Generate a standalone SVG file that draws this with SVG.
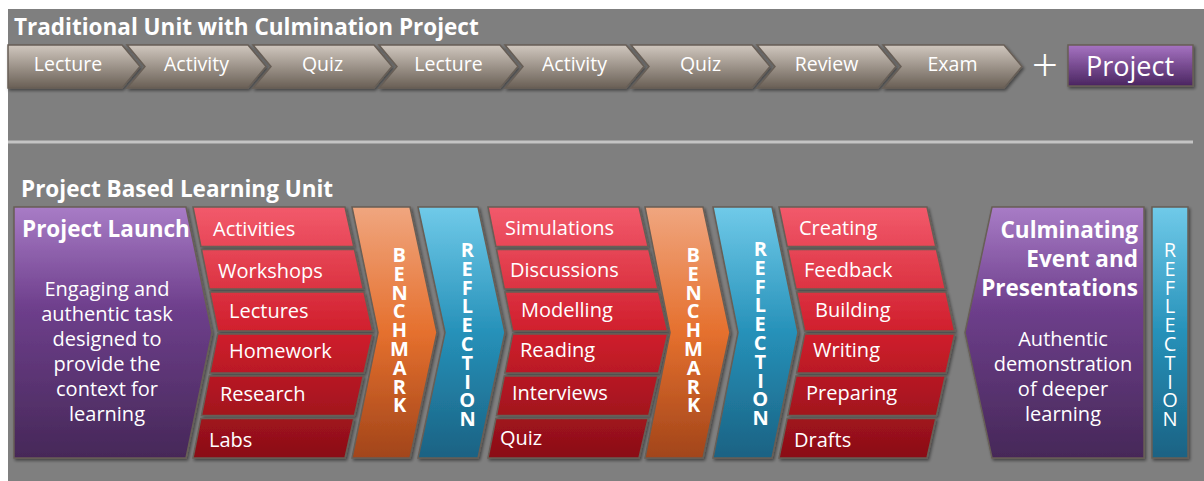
<svg xmlns="http://www.w3.org/2000/svg" xmlns:xlink="http://www.w3.org/1999/xlink" width="1204" height="481" viewBox="0 0 1204 481">
<defs>
<style>
.t{font-family:"Open Sans","Noto Sans","Liberation Sans",sans-serif;fill:#fff}
.h{font-weight:700;font-size:22.5px}
.ct{font-size:19.5px;text-anchor:middle}
.lb{font-size:20px}
.body{font-size:20px;text-anchor:middle}
.vert{writing-mode:vertical-rl;text-orientation:upright;text-anchor:start;letter-spacing:-8.2px}
.vb{font-weight:700;font-size:20px}
.vr{font-size:20px}
.sh{stroke:#675e56;stroke-width:1.5;filter:url(#ds)}
.red{fill:url(#gRed)}
.pur{fill:url(#gPur)}
.org{fill:url(#gOrg)}
.blu{fill:url(#gBlu)}
.tan{fill:url(#gTan)}
</style>
<filter id="ds" x="-10%" y="-10%" width="130%" height="130%">
<feDropShadow dx="1.5" dy="2" stdDeviation="1.5" flood-color="#000" flood-opacity="0.45"/>
</filter>
<linearGradient id="gTan" x1="0" y1="0" x2="0" y2="1">
<stop offset="0" stop-color="#d0c7be"/><stop offset="1" stop-color="#6a6056"/>
</linearGradient>
<linearGradient id="gProj" x1="0" y1="0" x2="0" y2="1">
<stop offset="0" stop-color="#a673c2"/><stop offset="1" stop-color="#4a2560"/>
</linearGradient>
<linearGradient id="gRed" gradientUnits="userSpaceOnUse" x1="0" y1="207" x2="0" y2="458">
<stop offset="0" stop-color="#f25a6b"/><stop offset="0.5" stop-color="#d01e2c"/><stop offset="1" stop-color="#8a0e16"/>
</linearGradient>
<linearGradient id="gPur" gradientUnits="userSpaceOnUse" x1="0" y1="207" x2="0" y2="458">
<stop offset="0" stop-color="#a87cc6"/><stop offset="0.4" stop-color="#6e3f8c"/><stop offset="1" stop-color="#462858"/>
</linearGradient>
<linearGradient id="gOrg" gradientUnits="userSpaceOnUse" x1="0" y1="207" x2="0" y2="458">
<stop offset="0" stop-color="#f0a67f"/><stop offset="0.5" stop-color="#e5702e"/><stop offset="1" stop-color="#a2451a"/>
</linearGradient>
<linearGradient id="gBlu" gradientUnits="userSpaceOnUse" x1="0" y1="207" x2="0" y2="458">
<stop offset="0" stop-color="#70cae9"/><stop offset="0.5" stop-color="#2691b9"/><stop offset="1" stop-color="#1b6283"/>
</linearGradient>
<path id="chev" d="M0,45 L121,45 L139,66.5 L121,88 L0,88 L18,66.5 Z"/>
</defs>

<rect x="0" y="0" width="1204" height="481" fill="#ffffff"/>
<rect x="8" y="9" width="1196" height="472" fill="#7f7f7f"/>
<line x1="8" y1="142" x2="1193" y2="142" stroke="#c4c4c4" stroke-width="3"/>

<text class="t h" x="14" y="35">Traditional Unit with Culmination Project</text>
<text class="t h" x="21" y="197">Project Based Learning Unit</text>

<!-- Traditional sequence -->
<g id="trad-lecture-1"><path class="tan sh" d="M8,45 L122,45 L140,66.5 L122,88 L8,88 Z"/><text class="t ct" x="68" y="71">Lecture</text></g>
<g id="trad-activity-1"><use href="#chev" x="127" class="tan sh"/><text class="t ct" x="196.5" y="71">Activity</text></g>
<g id="trad-quiz-1"><use href="#chev" x="253" class="tan sh"/><text class="t ct" x="322.5" y="71">Quiz</text></g>
<g id="trad-lecture-2"><use href="#chev" x="379" class="tan sh"/><text class="t ct" x="448.5" y="71">Lecture</text></g>
<g id="trad-activity-2"><use href="#chev" x="505" class="tan sh"/><text class="t ct" x="574.5" y="71">Activity</text></g>
<g id="trad-quiz-2"><use href="#chev" x="631" class="tan sh"/><text class="t ct" x="700.5" y="71">Quiz</text></g>
<g id="trad-review"><use href="#chev" x="757" class="tan sh"/><text class="t ct" x="826.5" y="71">Review</text></g>
<g id="trad-exam"><use href="#chev" x="883" class="tan sh"/><text class="t ct" x="952.5" y="71">Exam</text></g>
<g id="trad-plus"><text class="t" x="1045" y="81" font-size="46" font-weight="300" text-anchor="middle">+</text></g>
<g id="trad-project"><rect x="1068" y="45" width="125" height="41" fill="url(#gProj)" class="sh"/><text class="t" x="1130" y="76" font-size="27" text-anchor="middle">Project</text></g>

<!-- PBL unit -->
<g id="pbl-launch">
<path class="pur sh" d="M14,207 L186,207 L212,332.5 L186,458 L14,458 Z"/>
<text class="t h" x="22" y="237">Project Launch</text>
<text class="t body"><tspan x="107" y="296">Engaging and</tspan><tspan x="107" y="321">authentic task</tspan><tspan x="107" y="346">designed to</tspan><tspan x="107" y="371">provide the</tspan><tspan x="107" y="396">context for</tspan><tspan x="107" y="421">learning</tspan></text>
</g>

<g id="pbl-col1">
<path class="red sh" d="M193,207 L345,207 L353.8,246.5 L200.9,246.5 Z"/>
<path class="red sh" d="M201.5,249.5 L354.5,249.5 L363.3,289 L209.3,289 Z"/>
<path class="red sh" d="M209.9,292 L364,292 L372.7,331 L217.7,331 Z"/>
<path class="red sh" d="M217.7,334 L372.7,334 L364,373 L209.9,373 Z"/>
<path class="red sh" d="M209.3,376 L363.3,376 L354.5,415.5 L201.5,415.5 Z"/>
<path class="red sh" d="M200.9,418.5 L353.8,418.5 L345,458 L193,458 Z"/>
<text class="t lb" x="213" y="236">Activities</text>
<text class="t lb" x="218" y="278">Workshops</text>
<text class="t lb" x="229" y="318">Lectures</text>
<text class="t lb" x="229" y="358">Homework</text>
<text class="t lb" x="220" y="401">Research</text>
<text class="t lb" x="209" y="447">Labs</text>
</g>

<g id="pbl-benchmark-1">
<path class="org sh" d="M352,207 L410,207 L437,332.5 L410,458 L352,458 L378,332.5 Z"/>
<text class="t vb vert" x="399" y="241">BENCHMARK</text>
</g>

<g id="pbl-reflection-1">
<path class="blu sh" d="M418,207 L478,207 L505,332.5 L478,458 L418,458 L445,332.5 Z"/>
<text class="t vb vert" x="467" y="236">REFLECTION</text>
</g>

<g id="pbl-col2">
<path class="red sh" d="M488,207 L639,207 L648.1,246.5 L495.9,246.5 Z"/>
<path class="red sh" d="M496.5,249.5 L648.8,249.5 L658,289 L504.3,289 Z"/>
<path class="red sh" d="M504.9,292 L658.6,292 L667.7,331 L512.7,331 Z"/>
<path class="red sh" d="M512.7,334 L667.7,334 L658.6,373 L504.9,373 Z"/>
<path class="red sh" d="M504.3,376 L658,376 L648.8,415.5 L496.5,415.5 Z"/>
<path class="red sh" d="M495.9,418.5 L648.1,418.5 L639,458 L488,458 Z"/>
<text class="t lb" x="505" y="235">Simulations</text>
<text class="t lb" x="510" y="277">Discussions</text>
<text class="t lb" x="521" y="317">Modelling</text>
<text class="t lb" x="520" y="357">Reading</text>
<text class="t lb" x="512" y="400">Interviews</text>
<text class="t lb" x="500" y="445">Quiz</text>
</g>

<g id="pbl-benchmark-2">
<path class="org sh" d="M645,207 L703,207 L730,332.5 L703,458 L645,458 L670,332.5 Z"/>
<text class="t vb vert" x="693" y="241">BENCHMARK</text>
</g>

<g id="pbl-reflection-2">
<path class="blu sh" d="M713,207 L772,207 L798,332.5 L772,458 L713,458 L738,332.5 Z"/>
<text class="t vb vert" x="760" y="235">REFLECTION</text>
</g>

<g id="pbl-col3">
<path class="red sh" d="M779,207 L927,207 L935.8,246.5 L787.2,246.5 Z"/>
<path class="red sh" d="M787.8,249.5 L936.5,249.5 L945.3,289 L796,289 Z"/>
<path class="red sh" d="M796.6,292 L946,292 L954.7,331 L804.7,331 Z"/>
<path class="red sh" d="M804.7,334 L954.7,334 L946,373 L796.6,373 Z"/>
<path class="red sh" d="M796,376 L945.3,376 L936.5,415.5 L787.8,415.5 Z"/>
<path class="red sh" d="M787.2,418.5 L935.8,418.5 L927,458 L779,458 Z"/>
<text class="t lb" x="799" y="235">Creating</text>
<text class="t lb" x="804" y="277">Feedback</text>
<text class="t lb" x="815" y="317">Building</text>
<text class="t lb" x="813" y="357">Writing</text>
<text class="t lb" x="806" y="400">Preparing</text>
<text class="t lb" x="794" y="447">Drafts</text>
</g>

<g id="pbl-culminating">
<path class="pur sh" d="M992,207 L1144,207 L1144,458 L992,458 L965,332.5 Z"/>
<text class="t h" text-anchor="end"><tspan x="1138" y="238">Culminating</tspan><tspan x="1138" y="267">Event and</tspan><tspan x="1138" y="296">Presentations</tspan></text>
<text class="t body"><tspan x="1063" y="346">Authentic</tspan><tspan x="1063" y="371">demonstration</tspan><tspan x="1063" y="396">of deeper</tspan><tspan x="1063" y="421">learning</tspan></text>
</g>

<g id="pbl-reflection-3">
<rect class="blu sh" x="1152" y="207" width="36" height="251"/>
<text class="t vr vert" x="1170" y="236">REFLECTION</text>
</g>

<g id="connectors"></g>
</svg>
